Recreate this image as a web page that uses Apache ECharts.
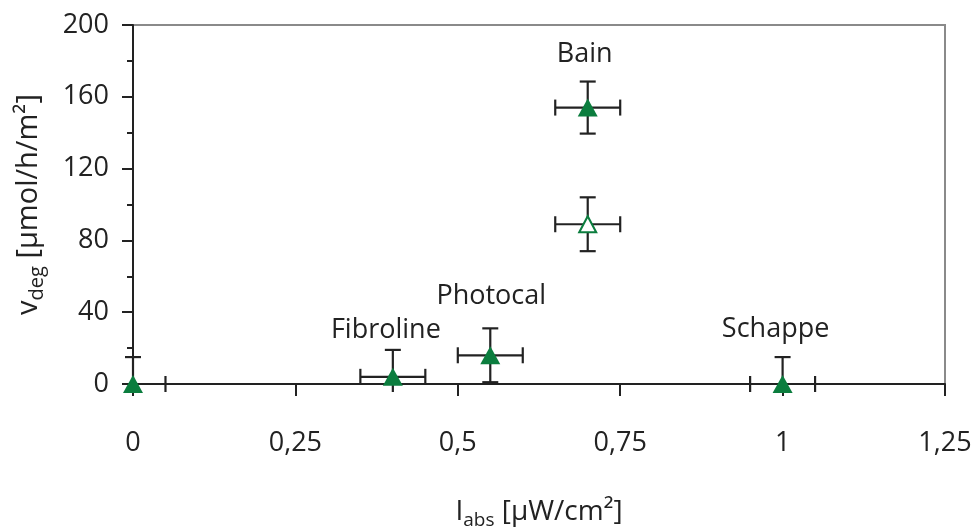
<!DOCTYPE html>
<html><head><meta charset="utf-8">
<script src="https://cdn.jsdelivr.net/npm/echarts@6/dist/echarts.min.js"></script>
<style>html,body{margin:0;padding:0;background:#fff}#c{width:975px;height:531px}</style>
</head><body><div id="c"></div>
<script>
// ---- data ----
const xTicks = ['0', '0,25', '0,5', '0,75', '1', '1,25'];
const yTicks = [0, 40, 80, 120, 160, 200];
const filledNames = ['', 'Fibroline', 'Photocal', 'Bain', 'Schappe'];
const filledX = [0, 0.4, 0.55, 0.7, 1];
const filledY = [0, 4, 16, 154, 0];
const filledXErr = [0.05, 0.05, 0.05, 0.05, 0.05];
const filledYErr = [15, 15, 15, 14.5, 15];
const openX = [0.7];
const openY = [89];
const openXErr = [0.05];
const openYErr = [15];

// ---- styles ----
const GREEN = '#0b7d3e';
const INK = '#222';
const FONT = 'Open Sans';
const FS = 27;
const labelOffsets = { Fibroline: [-7, -47], Photocal: [1, -59], Bain: [-3, -53], Schappe: [-7, -55] };
const X_MIN = 0, X_MAX = 1.25, Y_MIN = 0, Y_MAX = 200;

const errData = [];
filledX.forEach((x, i) => errData.push([x, filledY[i], filledXErr[i], filledYErr[i]]));
openX.forEach((x, i) => errData.push([x, openY[i], openXErr[i], openYErr[i]]));

function renderErr(params, api) {
  const x = api.value(0), y = api.value(1), xe = api.value(2), ye = api.value(3);
  const cap = 8;
  const st = { stroke: INK, lineWidth: 2.2 };
  const children = [];
  const xl = Math.max(X_MIN, x - xe), xr = Math.min(X_MAX, x + xe);
  const yl = Math.max(Y_MIN, y - ye), yh = Math.min(Y_MAX, y + ye);
  const pL = api.coord([xl, y]), pR = api.coord([xr, y]);
  const pB = api.coord([x, yl]), pT = api.coord([x, yh]);
  children.push({ type: 'line', shape: { x1: pL[0], y1: pL[1], x2: pR[0], y2: pR[1] }, style: st });
  if (x - xe >= X_MIN) children.push({ type: 'line', shape: { x1: pL[0], y1: pL[1] - cap, x2: pL[0], y2: pL[1] + cap }, style: st });
  if (x + xe <= X_MAX) children.push({ type: 'line', shape: { x1: pR[0], y1: pR[1] - cap, x2: pR[0], y2: pR[1] + cap }, style: st });
  const yBottom = (y - ye >= Y_MIN) ? pB[1] : pB[1] + 8;
  children.push({ type: 'line', shape: { x1: pT[0], y1: pT[1], x2: pB[0], y2: yBottom }, style: st });
  if (y + ye <= Y_MAX) children.push({ type: 'line', shape: { x1: pT[0] - cap, y1: pT[1], x2: pT[0] + cap, y2: pT[1] }, style: st });
  if (y - ye >= Y_MIN) children.push({ type: 'line', shape: { x1: pB[0] - cap, y1: pB[1], x2: pB[0] + cap, y2: pB[1] }, style: st });
  return { type: 'group', children };
}

const filledData = filledX.map((x, i) => {
  const n = filledNames[i];
  const item = { value: [x, filledY[i]], name: n };
  if (n && labelOffsets[n]) item.label = { show: true, position: 'inside', offset: labelOffsets[n], formatter: n,
    color: INK, fontSize: FS, fontFamily: FONT, textBorderWidth: 0 };
  return item;
});

const chart = echarts.init(document.getElementById('c'), null, { renderer: 'canvas' });
chart.setOption({
  animation: false,
  backgroundColor: '#fff',
  textStyle: { fontFamily: FONT },
  grid: { left: 133, top: 25, right: 30, bottom: 147, outerBoundsMode: 'none', containLabel: false,
    show: true, borderColor: '#8a8a8a', borderWidth: 2, backgroundColor: 'transparent' },
  xAxis: {
    type: 'value', min: X_MIN, max: X_MAX, interval: 0.25,
    axisLine: { onZero: false, lineStyle: { color: INK, width: 2 } },
    axisTick: { show: true, inside: false, length: 12, lineStyle: { color: INK, width: 2 } },
    splitLine: { show: false },
    axisLabel: { margin: 46, fontSize: FS, color: INK, fontFamily: FONT,
      formatter: (v) => xTicks[Math.round(v / 0.25)] },
    name: '{m|I}{s|abs}{m| [µW/cm²]}', nameLocation: 'middle', nameGap: 110,
    nameTextStyle: { rich: {
      m: { fontSize: 28, color: INK, fontFamily: FONT, lineHeight: 36, verticalAlign: 'middle' },
      s: { fontSize: 19, color: INK, fontFamily: FONT, lineHeight: 19, verticalAlign: 'bottom' } } }
  },
  yAxis: {
    type: 'value', min: Y_MIN, max: Y_MAX, interval: 40,
    axisLine: { onZero: false, lineStyle: { color: INK, width: 2 } },
    axisTick: { show: true, inside: false, length: 11, lineStyle: { color: INK, width: 2 } },
    minorTick: { show: true, splitNumber: 2, length: 6, lineStyle: { color: INK, width: 2 } },
    splitLine: { show: false },
    axisLabel: { margin: 24, fontSize: FS, color: INK, fontFamily: FONT,
      formatter: (v) => String(yTicks[Math.round(v / 40)]) },
    name: '{m|v}{s|deg}{m| [µmol/h/m²]}', nameLocation: 'middle', nameGap: 86, nameRotate: 90,
    nameTextStyle: { rich: {
      m: { fontSize: 29, color: INK, fontFamily: FONT, lineHeight: 36, verticalAlign: 'middle' },
      s: { fontSize: 20, color: INK, fontFamily: FONT, lineHeight: 20, verticalAlign: 'bottom' } } }
  },
  series: [
    { type: 'custom', renderItem: renderErr, data: errData, z: 2, silent: true,
      encode: { x: 0, y: 1 } },
    { type: 'scatter', symbol: 'triangle', symbolSize: [20, 18], z: 5, clip: false,
      itemStyle: { color: GREEN, opacity: 1 },
      label: { show: false, fontSize: FS, color: INK, fontFamily: FONT },
      data: filledData },
    { type: 'scatter', symbol: 'triangle', symbolSize: [17, 16], z: 5, clip: false,
      itemStyle: { color: '#fff', borderColor: GREEN, borderWidth: 2, opacity: 1 },
      data: openX.map((x, i) => [x, openY[i]]) }
  ]
});
</script></body></html>
